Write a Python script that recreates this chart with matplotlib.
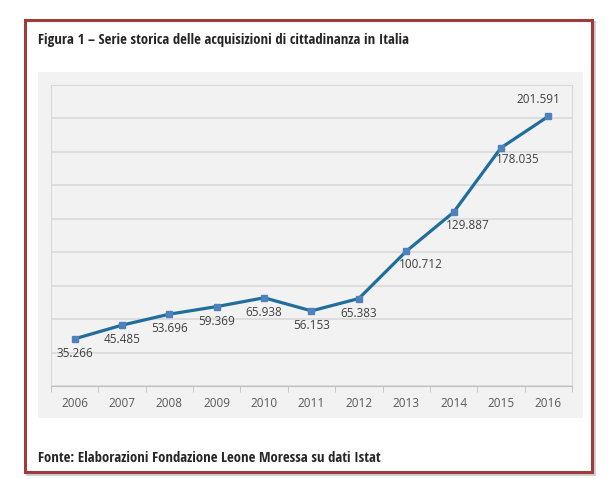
import matplotlib.pyplot as plt
import matplotlib.font_manager as fm
from matplotlib.patches import Rectangle

years = ['2006', '2007', '2008', '2009', '2010', '2011', '2012', '2013', '2014', '2015', '2016']
acquisizioni = [35266, 45485, 53696, 59369, 65938, 56153, 65383, 100712, 129887, 178035, 201591]
etichette = ['35.266', '45.485', '53.696', '59.369', '65.938', '56.153', '65.383',
             '100.712', '129.887', '178.035', '201.591']

names = {f.name for f in fm.fontManager.ttflist}
cond = next((n for n in ['Open Sans Condensed', 'Roboto Condensed', 'Liberation Sans Narrow',
                         'Barlow Condensed'] if n in names), 'DejaVu Sans')
body = next((n for n in ['Segoe UI', 'Open Sans', 'Noto Sans'] if n in names), 'DejaVu Sans')
plt.rcParams['font.family'] = [body, 'DejaVu Sans']

fig = plt.figure(figsize=(6.13, 4.79), dpi=100)

# cornice rossa con ombra
fig.patches.append(Rectangle((0.0445, 0.0105), 0.925, 0.9437, transform=fig.transFigure,
                             facecolor='none', edgecolor='#cccccc', lw=2.0, zorder=-3))
fig.patches.append(Rectangle((0.0408, 0.0146), 0.925, 0.9437, transform=fig.transFigure,
                             facecolor='white', edgecolor='#9e3b3b', lw=2.2, zorder=-2))
# pannello grigio
fig.patches.append(Rectangle((0.062, 0.1273), 0.889, 0.7223, transform=fig.transFigure,
                             facecolor='#f2f2f2', edgecolor='none', zorder=-1))

fig.text(0.062, 0.9165, 'Figura 1 – Serie storica delle acquisizioni di cittadinanza in Italia',
         fontsize=10.6, fontweight='bold', color='#262626', va='center', ha='left',
         family=[cond, 'DejaVu Sans'])
fig.text(0.062, 0.0438, 'Fonte: Elaborazioni Fondazione Leone Moressa su dati Istat',
         fontsize=10.6, fontweight='bold', color='#262626', va='center', ha='left',
         family=[cond, 'DejaVu Sans'])

ax = fig.add_axes([0.0832, 0.1942, 0.8499, 0.6283])
ax.patch.set_alpha(0)

x = list(range(len(years)))
ax.plot(x, acquisizioni, color='#1f6e9c', lw=2.3, marker='s', markersize=5,
        markerfacecolor='#4f81bd', markeredgecolor='#4f81bd', zorder=3)

# spostamento delle etichette (pixel)
dx = [0, 0, 0, 0, 0, 0, 0, 15, 14, 17, -10]
dy = [-8, -8, -8, -8, -8, -8, -8, -7, -7, -5, 10]
for i, (v, t) in enumerate(zip(acquisizioni, etichette)):
    ax.annotate(t, (i, v), xytext=(dx[i], dy[i]), textcoords='offset pixels',
                ha='center', va='bottom' if dy[i] > 0 else 'top',
                fontsize=8.5, color='#404040')

ax.set_xlim(-0.5, len(years) - 0.5)
ax.set_ylim(0, 225000)
ax.set_yticks(range(0, 225001, 25000))
ax.set_yticklabels([])
ax.tick_params(axis='y', length=0)
ax.grid(axis='y', color='#d9d9d9', lw=1.2)
ax.set_axisbelow(True)

ax.set_xticks(x)
ax.set_xticklabels(years, fontsize=8.5, color='#595959')
ax.set_xticks([i - 0.5 for i in range(len(years) + 1)], minor=True)
ax.tick_params(axis='x', which='major', length=0, pad=8)
ax.tick_params(axis='x', which='minor', length=4, color='#bfbfbf')

for s in ['left', 'right', 'top']:
    ax.spines[s].set_color('#d9d9d9')
ax.spines['bottom'].set_color('#bfbfbf')

fig.savefig('out.png', dpi=100)
